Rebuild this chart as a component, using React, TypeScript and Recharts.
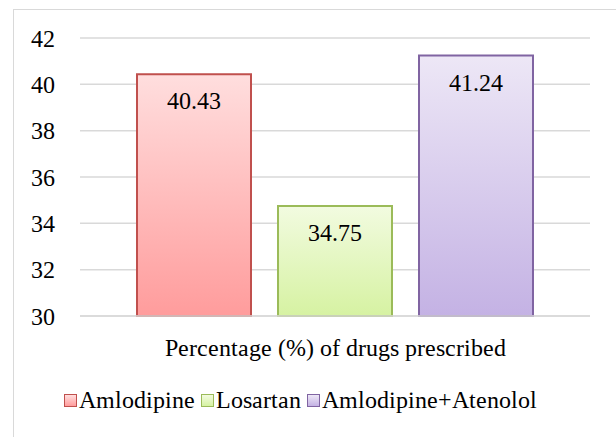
import React, { useEffect, useState } from "react";
import { BarChart, Bar, XAxis, YAxis, CartesianGrid, Legend, LabelList } from "recharts";

const categories = ["Percentage (%) of drugs prescribed"];
const seriesNames = ["Amlodipine", "Losartan", "Amlodipine+Atenolol"];
const seriesValues = [40.43, 34.75, 41.24];
const yTicks = [30, 32, 34, 36, 38, 40, 42];

const seriesStyles = [
  { top: "#ffdede", bottom: "#ff9c9c", stroke: "#c0504d", id: "gRed" },
  { top: "#f2fbe0", bottom: "#d6f2a2", stroke: "#9bbb59", id: "gGreen" },
  { top: "#ede7f6", bottom: "#c4b2e4", stroke: "#8064a2", id: "gPurple" },
];

const data = categories.map((c) => {
  const row: Record<string, string | number> = { name: c };
  seriesNames.forEach((s, i) => {
    row[s] = seriesValues[i];
  });
  return row;
});

const FONT_CSS = `@font-face { font-family: "ChartSerif"; src: local("Liberation Serif"), local("LiberationSerif"), local("LiberationSerif-Regular"), local("Tinos"), local("Times New Roman"); font-weight: 400; font-style: normal; }
.chart-root, .chart-root * { font-family: "ChartSerif", "Liberation Serif", Tinos, "Times New Roman", serif !important; }`;

const FONT = '"ChartSerif", "Liberation Serif", Tinos, "Times New Roman", serif';
const FS = 24;

const LegendContent = () => (
  <div
    style={{
      display: "flex",
      justifyContent: "center",
      alignItems: "center",
      height: 24,
      fontFamily: FONT,
      fontSize: FS,
      color: "#000",
    }}
  >
    {seriesNames.map((s, i) => (
      <div key={s} style={{ display: "flex", alignItems: "center", marginRight: i < seriesNames.length - 1 ? 6 : 0 }}>
        <span
          style={{
            display: "inline-block",
            width: 13,
            height: 13,
            boxSizing: "border-box",
            border: `1.5px solid ${seriesStyles[i].stroke}`,
            background: `linear-gradient(${seriesStyles[i].top}, ${seriesStyles[i].bottom})`,
            marginRight: 2,
          }}
        />
        <span>{s}</span>
      </div>
    ))}
  </div>
);

export default function App() {
  const [k, setK] = useState(0);
  useEffect(() => {
    let alive = true;
    const bump = () => {
      if (alive) setK((x) => x + 1);
    };
    const fs = (document as any).fonts;
    if (fs) {
      fs.load(`${FS}px "ChartSerif"`).then(bump).catch(() => {});
      fs.load(`${FS}px "Liberation Serif"`).then(bump).catch(() => {});
    }
    const t = setTimeout(bump, 100);
    return () => {
      alive = false;
      clearTimeout(t);
    };
  }, []);

  return (
    <div
      key={k}
      className="chart-root"
      style={{ position: "absolute", left: 0, top: 0, width: 616, height: 437, overflow: "hidden", background: "#fff", fontFamily: FONT }}
    >
      <style>{FONT_CSS}</style>
      <div
        style={{
          position: "absolute",
          left: 13,
          top: 9,
          width: 640,
          height: 460,
          border: "1px solid #d9d9d9",
          boxSizing: "border-box",
        }}
      />
      <div style={{ position: "absolute", left: 0, top: 0 }}>
        <BarChart
          width={616}
          height={437}
          data={data}
          margin={{ top: 38, right: 26, bottom: 25, left: 10 }}
          barCategoryGap={57}
          barGap={27}
        >
          <defs>
            {seriesStyles.map((st) => (
              <linearGradient key={st.id} id={st.id} x1="0" y1="0" x2="0" y2="1">
                <stop offset="0%" stopColor={st.top} />
                <stop offset="100%" stopColor={st.bottom} />
              </linearGradient>
            ))}
          </defs>
          <CartesianGrid vertical={false} stroke="#d9d9d9" strokeWidth={1.5} />
          <XAxis
            dataKey="name"
            axisLine={{ stroke: "#d9d9d9", strokeWidth: 1.5 }}
            tickLine={false}
            tickSize={0}
            tickMargin={23}
            height={72}
            tick={{ fill: "#000", fontFamily: FONT, fontSize: FS }}
          />
          <YAxis
            domain={[30, 42]}
            ticks={yTicks}
            axisLine={false}
            tickLine={false}
            tickSize={0}
            tickMargin={25}
            width={70}
            tick={{ fill: "#000", fontFamily: FONT, fontSize: FS }}
          />
          <Legend verticalAlign="bottom" height={24} content={<LegendContent />} />
          {seriesNames.map((s, i) => (
            <Bar
              key={s}
              dataKey={s}
              fill={`url(#${seriesStyles[i].id})`}
              stroke={seriesStyles[i].stroke}
              strokeWidth={2}
              isAnimationActive={false}
            >
              <LabelList
                dataKey={s}
                position="insideTop"
                offset={18}
                fill="#000"
                fontFamily={FONT}
                fontSize={FS}
              />
            </Bar>
          ))}
        </BarChart>
      </div>
    </div>
  );
}
